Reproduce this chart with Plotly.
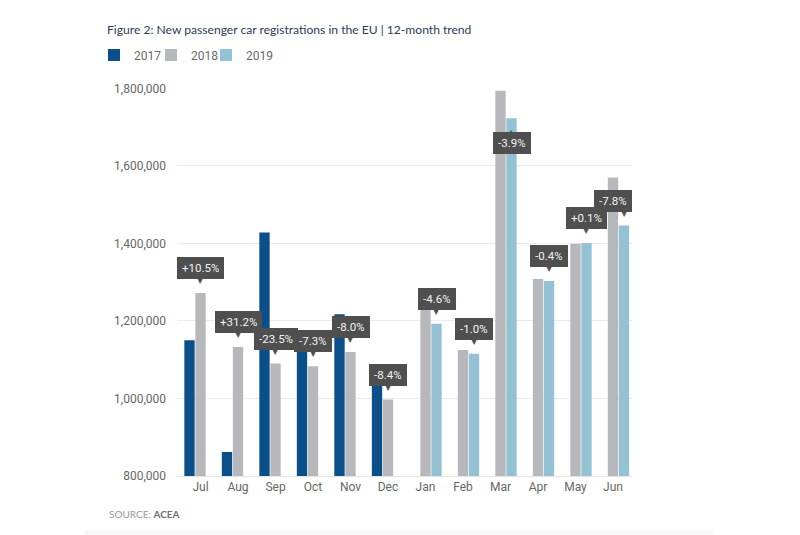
import plotly.graph_objects as go

months = ["Jul", "Aug", "Sep", "Oct", "Nov", "Dec", "Jan", "Feb", "Mar", "Apr", "May", "Jun"]
y2017 = [1150000, 862000, 1428000, 1168000, 1217000, 1088000, None, None, None, None, None, None]
y2018 = [1272000, 1133000, 1090000, 1083000, 1120000, 997000, 1250000, 1125000, 1794000, 1308000, 1399000, 1570000]
y2019 = [None, None, None, None, None, None, 1193000, 1115000, 1723000, 1303000, 1401000, 1446000]
pct_labels = ["+10.5%", "+31.2%", "-23.5%", "-7.3%", "-8.0%", "-8.4%",
              "-4.6%", "-1.0%", "-3.9%", "-0.4%", "+0.1%", "-7.8%"]
y_ticks = [800000, 1000000, 1200000, 1400000, 1600000, 1800000]

C17, C18, C19 = "#0b4f8a", "#b7b8bc", "#94c2d4"
BOX = "#4f4f4f"
BARGAP = 0.12
W, H = 800, 535
L, R, T, B = 177, 168, 86, 59
PW, PH = W - L - R, H - T - B

fig = go.Figure()
fig.add_trace(go.Bar(name="2017", x=months, y=y2017, legend="legend",
                     marker=dict(color=C17, line=dict(width=0))))
fig.add_trace(go.Bar(name="2018", x=months, y=y2018, legend="legend2",
                     marker=dict(color=C18, line=dict(width=0))))
fig.add_trace(go.Bar(name="2019", x=months, y=y2019, legend="legend3",
                     marker=dict(color=C19, line=dict(width=0))))

slot = (1 - BARGAP) / 3
label_xshift = {"Jun": -11}
annotations = []
for i, m in enumerate(months):
    if y2019[i] is not None:
        val, xpos = y2019[i], i + slot
    else:
        val, xpos = y2018[i], i
    flip = val > 1700000
    xs = label_xshift.get(m, 0)
    annotations.append(dict(
        x=xpos, y=val, xref="x", yref="y", text=pct_labels[i], showarrow=False,
        yanchor="top" if flip else "bottom", yshift=-14 if flip else 14, xshift=xs,
        bgcolor=BOX, borderpad=5, bordercolor=BOX, borderwidth=0, height=12,
        font=dict(family="Roboto", size=11.5, color="#f4f4f4")))
    annotations.append(dict(
        x=xpos, y=val, xref="x", yref="y", text="▲" if flip else "▼", showarrow=False,
        yanchor="top" if flip else "bottom", yshift=-8 if flip else 6,
        font=dict(family="DejaVu Sans", size=8, color=BOX)))

annotations.append(dict(
    x=(107 - L) / PW, y=-(514 - 476) / PH, xref="paper", yref="paper", xanchor="left", yanchor="middle",
    showarrow=False,
    text="<span style='color:#9a9a9a'>SOURCE:</span> <b><span style='color:#707070'>ACEA</span></b>",
    font=dict(family="Lato", size=10)))

legend_font = dict(family="Roboto", size=12, color="#6a6a6a")
def make_legend(px):
    return dict(orientation="h", xref="container", yref="container", x=px / W, xanchor="left",
                y=1 - 55 / H, yanchor="middle", itemwidth=30, font=legend_font,
                bgcolor="rgba(0,0,0,0)")

fig.update_layout(
    width=W, height=H,
    margin=dict(l=L, r=R, t=T, b=B),
    paper_bgcolor="white", plot_bgcolor="white",
    barmode="group", bargap=BARGAP, bargroupgap=0.06,
    title=dict(text="Figure 2: New passenger car registrations in the EU | 12-month trend",
               xref="container", yref="container", x=107 / W, xanchor="left",
               y=1 - 30 / H, yanchor="middle",
               font=dict(family="Lato", size=12.1, color="#2a3a58")),
    legend=make_legend(94),
    legend2=make_legend(151),
    legend3=make_legend(206),
    showlegend=True,
    xaxis=dict(type="category", showgrid=False, showline=True, linecolor="#e3e3e3", linewidth=1,
               ticks="", tickfont=dict(family="Roboto", size=12, color="#666666")),
    yaxis=dict(range=[800000, 1800000], tickvals=y_ticks, tickformat=",d", showgrid=True,
               gridcolor="#ebebeb", gridwidth=1, zeroline=False, ticks="", ticklabelstandoff=10,
               tickfont=dict(family="Roboto", size=12, color="#666666")),
    annotations=annotations,
    shapes=[dict(type="rect", xref="paper", yref="paper", x0=(85 - L) / PW, x1=(713 - L) / PW,
                 y0=-(535 - 476) / PH, y1=-(531 - 476) / PH, fillcolor="#f8f8f8", line=dict(width=0),
                 layer="below")],
)

fig.write_html("out.html", config={"displayModeBar": False},
               post_script="document.body.style.margin='0';")
